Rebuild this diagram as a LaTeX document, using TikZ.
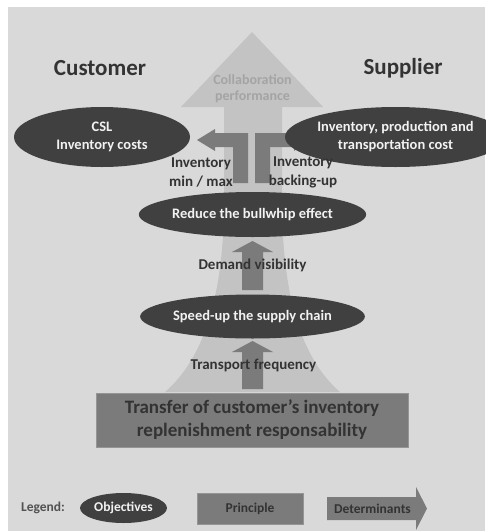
\documentclass[tikz,border=0pt]{standalone}
\usepackage{fontspec}
\setmainfont{Carlito}
\usetikzlibrary{shapes.geometric}
\definecolor{panel}{HTML}{D9D9D9}
\definecolor{lightarr}{HTML}{C3C3C3}
\definecolor{darkell}{HTML}{404040}
\definecolor{midarr}{HTML}{7B7B7B}
\definecolor{rimgray}{HTML}{959595}
\definecolor{txtdark}{HTML}{333333}
\definecolor{txtlight}{HTML}{F2F2F2}
\definecolor{collab}{HTML}{A4A4A4}
\begin{document}
\begin{tikzpicture}[x=1pt,y=-1pt,
  obj/.style={ellipse, fill=darkell, text=txtlight, inner sep=0pt, align=center,
    font=\bfseries\fontsize{14.5}{18}\selectfont},
  lbl/.style={text=txtdark, inner sep=0pt, align=center,
    font=\bfseries\fontsize{15}{19}\selectfont},
  side/.style={text=txtdark, inner sep=0pt, font=\bfseries\fontsize{23}{28}\selectfont},
  princ/.style={rectangle, fill=midarr, draw=rimgray, line width=0.8pt, inner sep=0pt, align=center},
  detarrow/.style={fill=midarr},
  legtxt/.style={inner sep=0pt, font=\bfseries\fontsize{13.5}{16}\selectfont}]
\useasboundingbox (0,0) rectangle (486,531);
\fill[white] (0,0) rectangle (486,531);
\fill[panel] (8,7) rectangle (485,530.5);
% collaboration performance arrow
\fill[lightarr] (252,32) -- (323,107) -- (282,107) -- (282,200)
  .. controls (282,300) and (303,360) .. (340,392) -- (165,392)
  .. controls (202,360) and (224,300) .. (224,200) -- (224,107) -- (181,107) -- cycle;
\node[text=collab, inner sep=0pt, align=center, font=\bfseries\fontsize{14}{16}\selectfont]
  (collab) at (252.5,89) {Collaboration\\performance};
% side titles
\node[side] (cust) at (100,68) {Customer};
\node[side] (supp) at (403,68) {Supplier};
% T arrows
\fill[detarrow] (233,183) -- (233,147) -- (215,147) -- (215,151) -- (197,140) -- (215,129)
  -- (215,133) -- (248,133) -- (248,183) -- cycle;
\fill[detarrow] (270,183) -- (270,147) -- (294,147) -- (294,151) -- (306,140) -- (294,129)
  -- (294,133) -- (255,133) -- (255,183) -- cycle;
% objectives
\node[obj, minimum width=176pt, minimum height=60pt] (csl) at (102,137) {CSL\\Inventory costs};
\node[obj, minimum width=170pt, minimum height=60pt] (cost) at (395.5,137)
  {Inventory, production and\\transportation cost};
\node[lbl] (invmin) at (201,172.5) {Inventory\\min / max};
\node[lbl] (invback) at (303,172.5) {Inventory\\backing-up};
\node[obj, minimum width=179pt, minimum height=45pt] (bull) at (252.5,214.5) {Reduce the bullwhip effect};
\node[obj, minimum width=179pt, minimum height=44pt] (speed) at (252.5,316.5) {Speed-up the supply chain};
% determinant arrows
\fill[detarrow] (242,290) -- (242,252) -- (232,252) -- (252.5,241) -- (273,252) -- (263,252) -- (263,290) -- cycle;
\fill[detarrow] (242,389) -- (242,352) -- (232,352) -- (252.5,341) -- (273,352) -- (263,352) -- (263,389) -- cycle;
\node[lbl] (demand) at (252.5,265) {Demand visibility};
\node[lbl] (transp) at (253.5,365) {Transport frequency};
% principle
\node[princ, minimum width=312pt, minimum height=54pt, text=txtdark,
  font=\bfseries\fontsize{19}{23}\selectfont] (transfer) at (252,420)
  {Transfer of customer’s inventory\\replenishment responsability};
% legend
\node[legtxt, text=txtdark!85!white] (legend) at (43,508) {Legend:};
\node[obj, minimum width=87pt, minimum height=30pt, font=\bfseries\fontsize{13.5}{16}\selectfont]
  (legobj) at (123.5,508) {Objectives};
\node[princ, minimum width=106pt, minimum height=31pt, text=txtdark,
  font=\bfseries\fontsize{13.5}{16}\selectfont] (legprinc) at (250,508.5) {Principle};
\fill[detarrow] (327,497) -- (416,497) -- (416,487) -- (427,508.5) -- (416,530) -- (416,520) -- (327,520) -- cycle;
\node[legtxt, text=txtdark] (legdet) at (372.5,508.5) {Determinants};
\end{tikzpicture}
\end{document}
